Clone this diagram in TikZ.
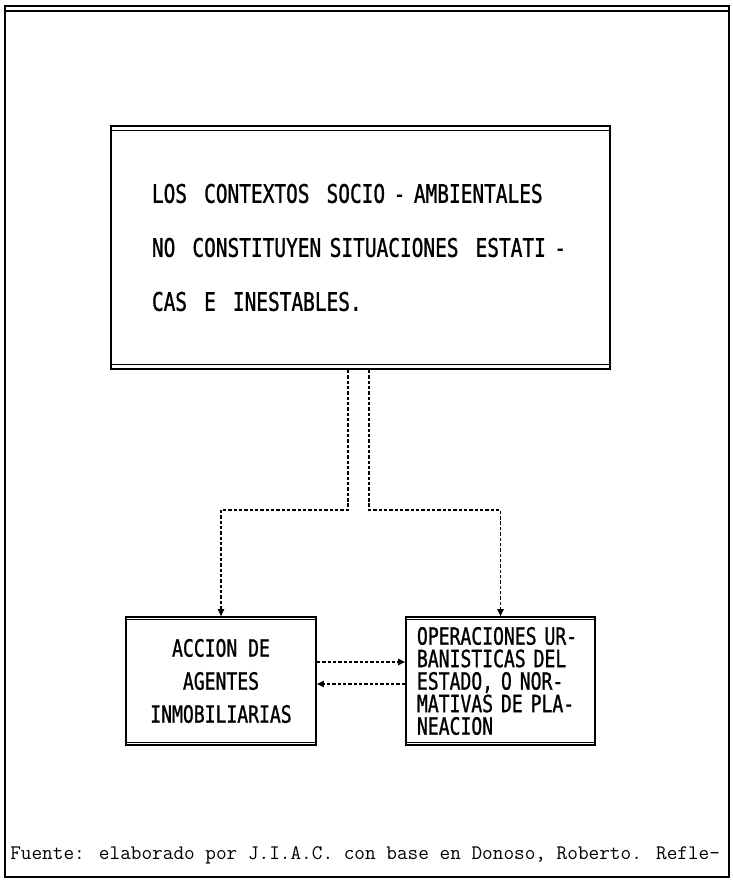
\documentclass[tikz,border=0pt]{standalone}
\usepackage{fontspec}
\usetikzlibrary{arrows.meta}
\newfontfamily\cajafont[FakeStretch=0.76, FakeBold=1]{DejaVu Sans Mono}

\begin{document}
\begin{tikzpicture}[x=0.025cm, y=-0.025cm,
    caja/.style={draw, line width=1.2pt, inner ysep=0pt},
    conector/.style={line width=1pt, dash pattern=on 2.4pt off 1.4pt,
        -{Triangle[length=5pt,width=4.5pt]}}]

\def\GRUESO{1.3pt}
\def\FINO{0.8pt}
	\useasboundingbox (0,0) rectangle (732,881);
	\draw[line width=\GRUESO] (5,6) rectangle (729,877);
	\draw[line width=\FINO] (5,11) -- (729,11);

	\node[caja, minimum width=12.475cm, minimum height=6.075cm,
		text width=10.425cm, inner xsep=1.025cm, align=left,
		font=\cajafont\fontsize{18.2}{38.4}\selectfont] (contexto) at (360.5,247.5)
		{LOS\ \ CONTEXTOS\ \ SOCIO - AMBIENTALES\\
		 NO\ \ CONSTITUYEN SITUACIONES\ \ ESTATI -\\
		 CAS\ \ E\ \ INESTABLES.};
	\node[caja, minimum width=4.75cm, minimum height=3.2cm,
		align=center, font=\cajafont\fontsize{16.9}{23.5}\selectfont] (agentes) at (221,681)
		{ACCION DE\\ AGENTES\\ INMOBILIARIAS};
	\node[caja, minimum width=4.725cm, minimum height=3.2cm,
		text width=4.175cm, inner xsep=0.275cm, align=left,
		font=\cajafont\fontsize{16.9}{16}\selectfont] (estado) at (500.5,681)
		{OPERACIONES UR-\\ BANISTICAS DEL\\ ESTADO, O NOR-\\ MATIVAS DE PLA-\\ NEACION};

	\foreach \caja/\sep in {contexto/0.13cm, agentes/0.09cm, estado/0.09cm}{
		\draw[line width=\FINO] ([yshift=-\sep]\caja.north west) -- ([yshift=-\sep]\caja.north east);
		\draw[line width=\FINO] ([yshift=\sep]\caja.south west) -- ([yshift=\sep]\caja.south east);
	}

	\draw[conector] ([xshift=-0.31cm]contexto.south) -- ++(0,140) -| (agentes.north);
	\draw[conector] ([xshift=0.21cm]contexto.south) -- ++(0,140) -| (estado.north);
	\draw[conector] ([yshift=0.475cm]agentes.east) -- ([yshift=0.475cm]estado.west);
	\draw[conector] ([yshift=-0.075cm]estado.west) -- ([yshift=-0.075cm]agentes.east);

	\node[anchor=west, inner sep=0pt, font=\ttfamily\fontsize{14.7}{16}\selectfont] (fuente) at (10,855)
		{Fuente: elaborado por J.I.A.C. con base en Donoso, Roberto. Refle-};

          \end{tikzpicture}
\end{document}
